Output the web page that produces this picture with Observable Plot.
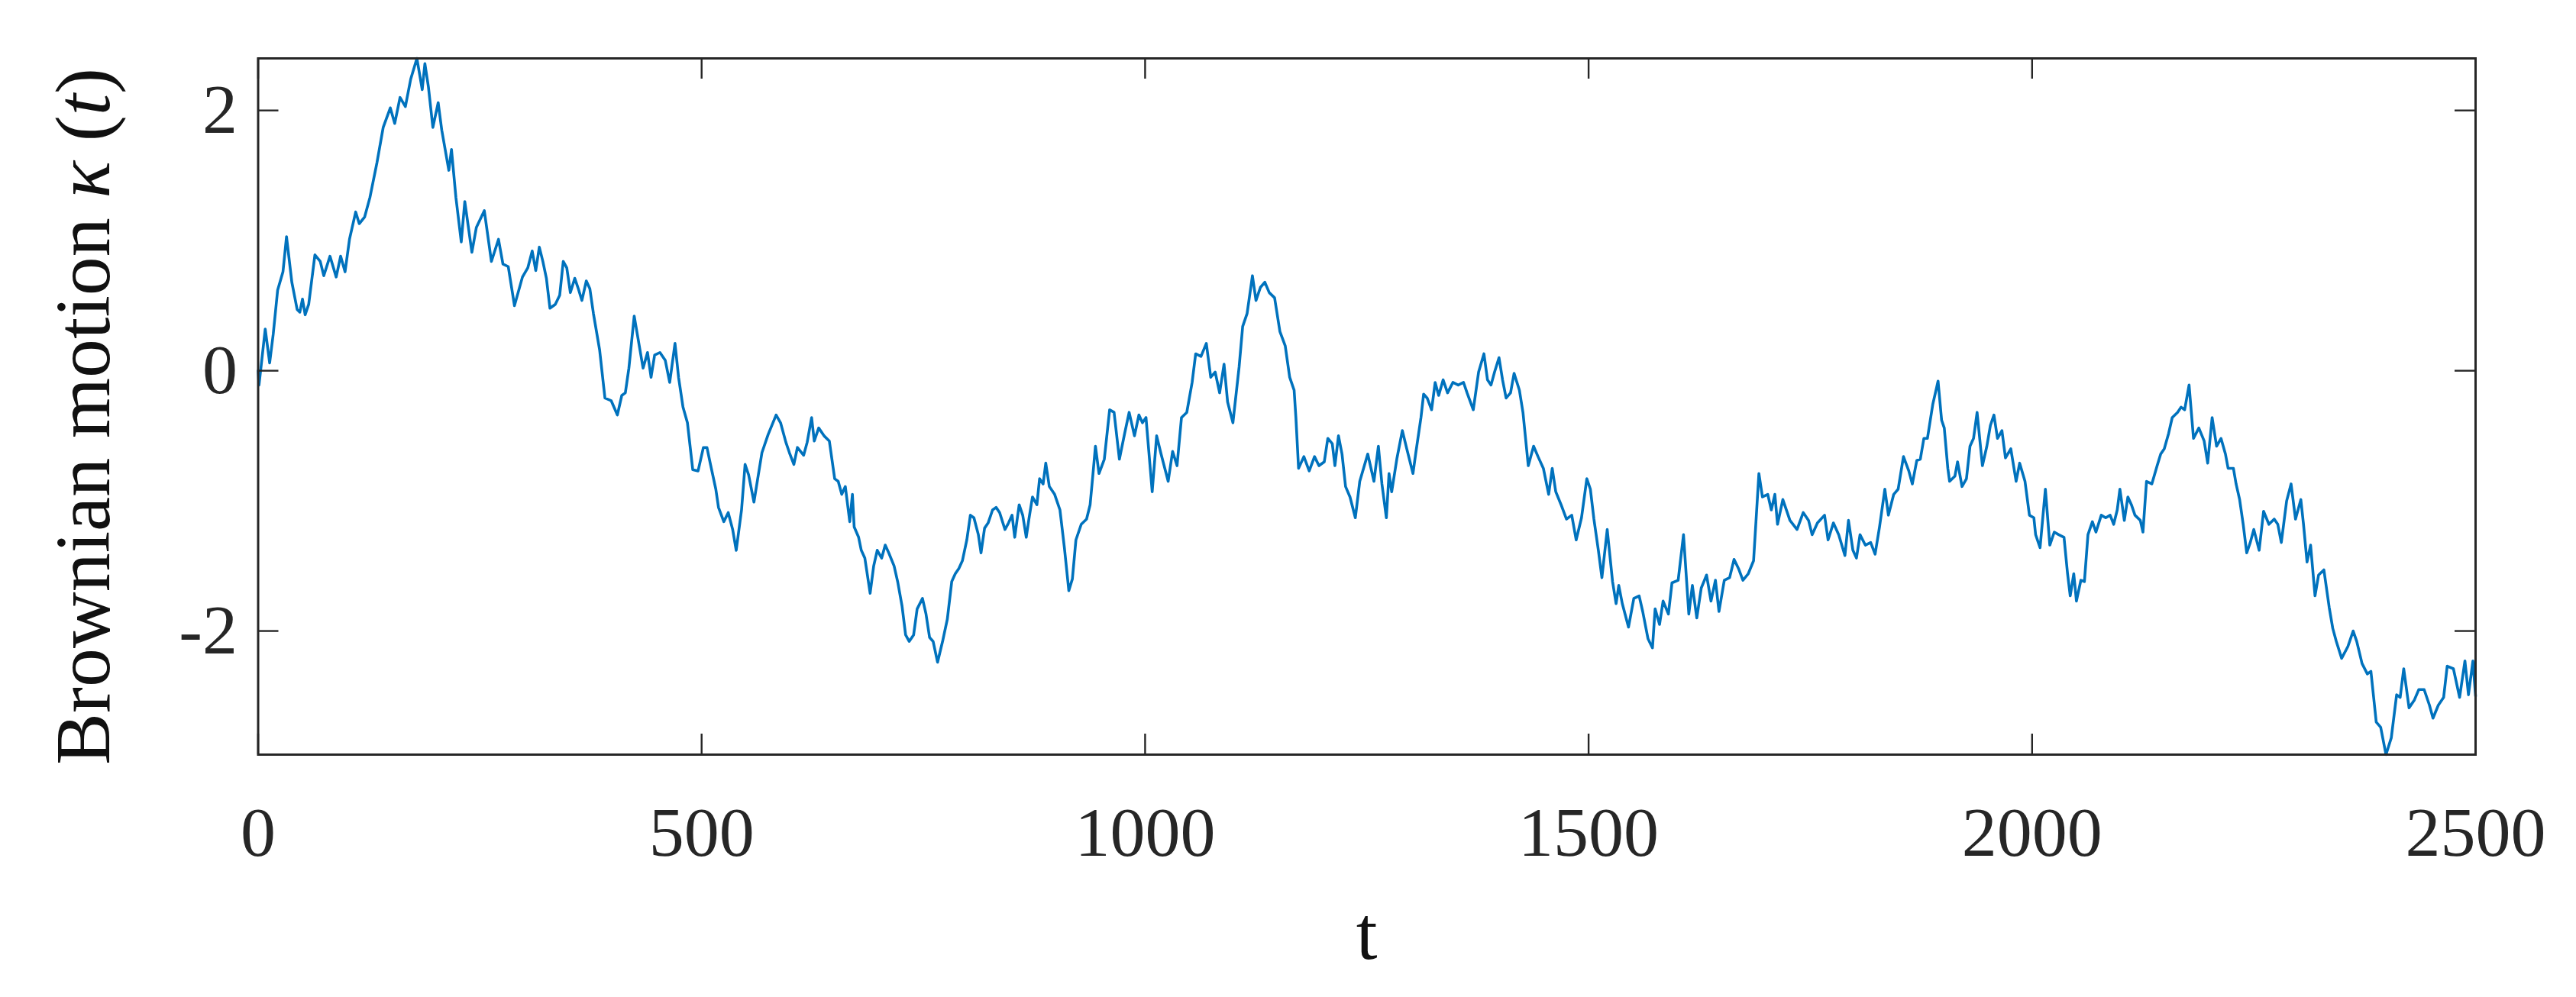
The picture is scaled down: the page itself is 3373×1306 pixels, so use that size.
<!DOCTYPE html>
<html><head><meta charset="utf-8">
<script src="https://cdn.jsdelivr.net/npm/d3@7"></script>
<script src="https://cdn.jsdelivr.net/npm/@observablehq/plot@0.6"></script>
<style>html,body{margin:0;padding:0;background:#fff;}</style>
</head><body><div id="chart"></div>
<script>
const tValues = [0,1,8,13,17,22,28,32,38,44,47,50,53,57,64,70,74,81,88,93,98,103,110,114,120,126,134,141,149,154,160,166,172,179,185,188,192,197,203,207,215,218,223,229,233,241,246,255,263,271,276,282,289,298,
304,309,313,317,321,325,329,335,340,344,348,352,357,361,365,370,374,378,385,391,398,405,410,414,418,424,430,434,439,443,447,453,459,464,470,474,479,484,490,496,502,506,510,516,519,525,530,535,539,545,549,553,559,563,568,575,584,589,595,599,604,608,615,619,624,
627,632,638,644,650,654,658,662,667,670,672,677,680,684,690,694,698,703,707,711,717,721,726,730,734,739,743,749,753,757,761,766,772,777,782,786,790,794,799,803,807,812,815,819,823,828,832,836,842,846,850,853,858,862,866,869,873,878,881,885,888,892,898,904,909,914,918,922,928,934,938,
941,944,948,954,960,965,971,977,982,988,993,997,1001,1008,1013,1018,1026,1031,1036,1041,1047,1053,1057,1063,1069,1074,1079,1084,1089,1093,1099,1106,1110,1115,1121,1125,1130,1135,1140,1146,1152,1158,1163,1168,1170,1173,1179,1185,1191,1196,1202,1206,1211,1214,1218,1222,1226,1231,1237,1242,1251,1258,
1263,1267,1272,1275,1278,1284,1290,1295,1302,1305,1311,1314,1318,1323,1327,1331,1336,1341,1347,1353,1359,1363,1370,1376,1382,1386,1390,1394,1399,1403,1407,1412,1416,1422,1426,1432,1438,1443,1449,1455,1459,1463,1469,1475,1481,1486,1492,1498,1502,1506,1511,1515,1521,1527,1531,1534,1538,1545,1551,1557,1561,1567,1572,1575,
1580,1584,1590,1594,1601,1607,1613,1617,1622,1627,1633,1638,1643,1647,1653,1659,1664,1669,1674,1680,1686,1692,1696,1702,1706,1710,1713,1719,1727,1735,1742,1748,1752,1758,1766,1770,1776,1782,1789,1793,1798,1802,1806,1812,1818,1823,1828,1834,1838,1844,1849,1855,1861,1865,1870,1874,1878,1882,1888,1894,1898,
1901,1905,1907,1913,1916,1921,1926,1930,1934,1938,1944,1949,1953,1957,1961,1966,1970,1976,1982,1986,1992,1997,2002,2004,2009,2015,2020,2025,2030,2036,2040,2043,2047,2050,2055,2059,2063,2068,2072,2078,2083,2088,2092,2096,2099,2104,2108,2112,2116,2122,2125,2129,2135,2141,2145,2149,2154,2158,2164,2168,2172,2177,2182,2188,2194,2198,2203,2208,2213,
2218,2221,2227,2230,2234,2238,2242,2246,2250,2256,2261,2267,2273,2277,2281,2287,2292,2297,2303,2306,2310,2314,2319,2323,2329,2335,2339,2343,2349,2356,2362,2366,2372,2378,2382,2388,2393,2399,2405,2411,2415,2419,2425,2431,2436,2442,2448,2452,2458,2464,2468,2475,2482,2488,2492,2497,2500];

const kappaValues = [0.00,-0.11,0.32,0.06,0.28,0.62,0.76,1.03,0.68,0.47,0.45,0.55,0.43,0.51,0.89,0.84,0.73,0.88,0.72,0.88,0.76,1.01,1.22,1.13,1.18,1.33,1.60,1.87,2.02,1.90,2.10,2.03,2.24,2.40,2.16,2.36,2.18,1.87,2.06,1.85,1.54,1.70,1.33,0.99,1.30,0.91,1.10,1.23,0.84,1.01,0.82,0.80,0.50,0.72,
0.79,0.92,0.77,0.95,0.84,0.71,0.48,0.51,0.58,0.84,0.79,0.60,0.71,0.63,0.54,0.69,0.63,0.44,0.16,-0.21,-0.23,-0.34,-0.19,-0.17,0.02,0.42,0.18,0.02,0.14,-0.05,0.12,0.14,0.08,-0.09,0.21,-0.05,-0.28,-0.40,-0.76,-0.77,-0.59,-0.59,-0.72,-0.91,-1.05,-1.16,-1.09,-1.22,-1.38,-1.07,-0.72,-0.80,-1.01,-0.84,-0.63,-0.49,-0.34,-0.40,-0.55,-0.63,-0.72,-0.59,-0.65,-0.55,-0.36,
-0.54,-0.44,-0.50,-0.54,-0.83,-0.85,-0.95,-0.89,-1.16,-0.95,-1.20,-1.28,-1.38,-1.44,-1.71,-1.50,-1.38,-1.44,-1.34,-1.40,-1.50,-1.62,-1.81,-2.03,-2.08,-2.03,-1.83,-1.75,-1.87,-2.05,-2.08,-2.24,-2.07,-1.91,-1.62,-1.56,-1.52,-1.46,-1.30,-1.11,-1.13,-1.26,-1.40,-1.21,-1.17,-1.07,-1.05,-1.09,-1.22,-1.17,-1.11,-1.28,-1.03,-1.11,-1.28,-1.14,-0.97,-1.03,-0.83,-0.87,-0.71,-0.89,-0.95,-1.07,-1.36,-1.69,-1.60,-1.30,-1.18,-1.14,-1.03,
-0.81,-0.58,-0.79,-0.68,-0.30,-0.32,-0.68,-0.48,-0.32,-0.50,-0.34,-0.40,-0.36,-0.93,-0.50,-0.64,-0.85,-0.62,-0.73,-0.36,-0.32,-0.09,0.13,0.11,0.21,-0.05,-0.01,-0.17,0.05,-0.24,-0.40,0.03,0.34,0.44,0.73,0.54,0.64,0.68,0.60,0.56,0.30,0.19,-0.05,-0.15,-0.36,-0.75,-0.66,-0.77,-0.66,-0.73,-0.70,-0.52,-0.56,-0.73,-0.50,-0.64,-0.89,-0.97,-1.13,-0.85,-0.64,-0.85,
-0.58,-0.87,-1.13,-0.79,-0.93,-0.67,-0.46,-0.60,-0.79,-0.64,-0.36,-0.18,-0.21,-0.30,-0.09,-0.19,-0.07,-0.17,-0.09,-0.11,-0.09,-0.17,-0.30,-0.01,0.13,-0.07,-0.11,-0.01,0.10,-0.07,-0.21,-0.17,-0.02,-0.15,-0.32,-0.73,-0.58,-0.66,-0.75,-0.95,-0.75,-0.93,-1.03,-1.14,-1.11,-1.30,-1.13,-0.83,-0.91,-1.14,-1.38,-1.59,-1.22,-1.62,-1.79,-1.65,-1.79,-1.97,-1.75,-1.73,-1.85,-2.06,-2.13,-1.83,
-1.95,-1.77,-1.87,-1.63,-1.61,-1.26,-1.87,-1.65,-1.90,-1.67,-1.57,-1.77,-1.61,-1.85,-1.61,-1.59,-1.45,-1.52,-1.61,-1.56,-1.46,-0.79,-0.97,-0.95,-1.07,-0.95,-1.18,-0.99,-1.15,-1.22,-1.09,-1.15,-1.26,-1.17,-1.11,-1.30,-1.17,-1.26,-1.42,-1.15,-1.38,-1.44,-1.26,-1.34,-1.32,-1.41,-1.20,-0.91,-1.11,-0.95,-0.91,-0.66,-0.77,-0.87,-0.69,-0.68,-0.52,-0.52,-0.26,-0.08,-0.38,
-0.44,-0.75,-0.85,-0.81,-0.70,-0.89,-0.83,-0.58,-0.52,-0.32,-0.73,-0.58,-0.42,-0.34,-0.52,-0.46,-0.67,-0.60,-0.85,-0.71,-0.85,-1.11,-1.13,-1.26,-1.36,-0.91,-1.34,-1.24,-1.26,-1.28,-1.56,-1.73,-1.56,-1.77,-1.61,-1.62,-1.26,-1.16,-1.24,-1.11,-1.13,-1.11,-1.18,-1.07,-0.91,-1.15,-0.97,-1.03,-1.11,-1.15,-1.24,-0.85,-0.87,-0.73,-0.64,-0.60,-0.48,-0.36,-0.32,-0.28,-0.30,-0.11,-0.52,-0.44,-0.54,-0.71,-0.36,-0.58,-0.52,
-0.64,-0.75,-0.75,-0.87,-0.99,-1.18,-1.40,-1.32,-1.22,-1.38,-1.08,-1.18,-1.14,-1.18,-1.32,-1.00,-0.87,-1.14,-0.99,-1.18,-1.47,-1.34,-1.73,-1.57,-1.53,-1.82,-1.98,-2.08,-2.21,-2.12,-2.00,-2.08,-2.25,-2.33,-2.31,-2.70,-2.74,-2.95,-2.82,-2.49,-2.51,-2.29,-2.59,-2.53,-2.45,-2.45,-2.57,-2.67,-2.57,-2.51,-2.27,-2.29,-2.51,-2.23,-2.49,-2.23,-2.50];

const xTicks = [0, 500, 1000, 1500, 2000, 2500];
const xTickLabels = ["0", "500", "1000", "1500", "2000", "2500"];
const yTicks = [-2, 0, 2];
const yTickLabels = ["-2", "0", "2"];
const xLabel = "t";
const yLabel = "Brownian motion κ (t)";

const W = 3373, H = 1306;
const mL = 337.5, mR = 132, mT = 76, mB = 318;
const innerW = W - mL - mR, innerH = H - mT - mB;
const tickLen = 27;
const axisColor = "#262626";

const data = tValues.map((t, i) => ({t, k: kappaValues[i]}));

const chart = Plot.plot({
  width: W, height: H,
  marginLeft: mL, marginRight: mR, marginTop: mT, marginBottom: mB,
  x: {domain: [0, 2500]},
  y: {domain: d3.extent(kappaValues)},
  style: {fontFamily: "'Liberation Serif', 'Times New Roman', serif", fontSize: "92px", color: axisColor, background: "#fff"},
  marks: [
    Plot.lineY(data, {x: "t", y: "k", stroke: "#0072BD", strokeWidth: 3.6, strokeLinejoin: "round"}),
    Plot.frame({stroke: axisColor, strokeWidth: 3}),
    Plot.tickX(xTicks, {x: d => d, insetTop: innerH - tickLen, stroke: axisColor, strokeWidth: 2.4}),
    Plot.tickX(xTicks, {x: d => d, insetBottom: innerH - tickLen, stroke: axisColor, strokeWidth: 2.4}),
    Plot.tickY(yTicks, {y: d => d, insetRight: innerW - tickLen, stroke: axisColor, strokeWidth: 2.4}),
    Plot.tickY(yTicks, {y: d => d, insetLeft: innerW - tickLen, stroke: axisColor, strokeWidth: 2.4}),
    Plot.axisX(xTicks, {tickSize: 0, tickPadding: 67, tickFormat: d => xTickLabels[xTicks.indexOf(d)], label: null, fontSize: 92}),
    Plot.axisY(yTicks, {tickSize: 0, tickPadding: 27, tickFormat: d => yTickLabels[yTicks.indexOf(d)], label: null, fontSize: 92}),
    Plot.text([xLabel], {frameAnchor: "bottom", dy: 235, fontSize: 100, lineAnchor: "middle", fill: "#111"}),
    Plot.text([yLabel], {frameAnchor: "left", dx: -228, dy: 13, rotate: -90, fontSize: 102, lineAnchor: "middle", textAnchor: "middle", fill: "#111"})
  ]
});

// italicize the math symbols in the y label
chart.querySelectorAll("text").forEach(el => {
  if (el.textContent === yLabel) {
    while (el.firstChild) el.removeChild(el.firstChild);
    const parts = [["Brownian motion ", false], ["κ", true], [" (", false], ["t", true], [")", false]];
    for (const [s, it] of parts) {
      const ts = document.createElementNS("http://www.w3.org/2000/svg", "tspan");
      ts.textContent = s;
      if (it) ts.setAttribute("font-style", "italic");
      el.appendChild(ts);
    }
  }
});

document.getElementById("chart").appendChild(chart);
</script>
</body></html>
